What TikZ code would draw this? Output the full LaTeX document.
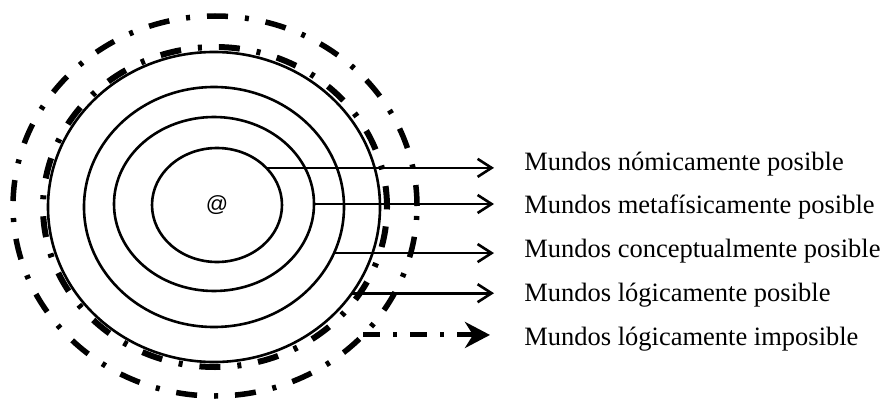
\documentclass[tikz,border=0pt]{standalone}
\usepackage{fontspec}
\setmainfont{Liberation Serif}
\newfontfamily\atfont{Liberation Sans}
\usetikzlibrary{arrows.meta, shapes.geometric}

\begin{document}
\begin{tikzpicture}[x=1pt, y=-1pt, line width=2.6pt]
    \tikzstyle{world}=[ellipse, draw=black, inner sep=0pt, outer sep=0pt]
    \tikzstyle{dashdot world}=[world, line width=5.5pt, dash pattern=on 21pt off 17pt on 4pt off 17pt]
    \tikzstyle{label text}=[anchor=base west, inner sep=0pt, font=\fontsize{26.5}{30}\selectfont]
    \tikzstyle{world arrow}=[-{Straight Barb[length=14pt, width=18pt]}, shorten >=29pt]
    \tikzstyle{impossible arrow}=[-{Stealth[length=25pt, width=26pt, inset=8pt]}, shorten >=33pt,
        line width=5pt, dash pattern=on 17pt off 13pt on 4pt off 13pt]

    \useasboundingbox (0,0) rectangle (882,401);

    % Draw the worlds, from outside in
    \node[dashdot world, minimum width=404pt, minimum height=380pt] (W-0) at (215,206) {};
    \node[dashdot world, line width=6pt, minimum width=344pt, minimum height=320pt] (W-5) at (215,207) {};
    \node[world, minimum width=332pt, minimum height=310pt] (W-4) at (214,207) {};
    \node[world, minimum width=260pt, minimum height=240pt] (W-3) at (214,207) {};
    \node[world, minimum width=200pt, minimum height=174pt] (W-2) at (214,204) {};
    \node[world, minimum width=130pt, minimum height=114pt] (W-1) at (217,205) {\atfont\fontsize{22}{24}\selectfont @};

    % Draw the labels
    \foreach \name / \y / \txt in {1/170/nómicamente posible, 2/213.75/metafísicamente posible,
        3/257.5/conceptualmente posible, 4/301.25/lógicamente posible, 5/345/lógicamente imposible}
        \node[label text] (L-\name) at (523,\y) {Mundos \txt};

    % Draw the arrows
    \draw[world arrow] (W-1.37) -- (W-1.37 -| L-1.west);
    \draw[world arrow] (W-2.0) -- (W-2.0 -| L-2.west);
    \draw[world arrow] (W-3.-21) -- (W-3.-21 -| L-3.west);
    \draw[world arrow] (W-4.-32) -- (W-4.-32 -| L-4.west);
    \draw[impossible arrow] (W-0.-41) -- (W-0.-41 -| L-5.west);
\end{tikzpicture}
\end{document}
